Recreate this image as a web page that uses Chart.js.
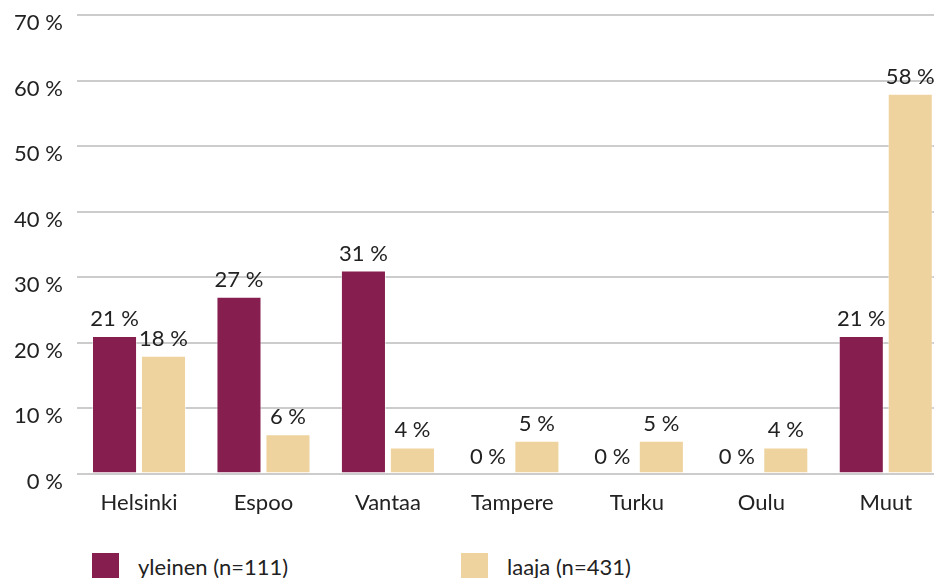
<!DOCTYPE html>
<html>
<head>
<meta charset="utf-8">
<script src="https://cdn.jsdelivr.net/npm/chart.js@4"></script>
<style>
  html, body { margin: 0; padding: 0; background: #fff; overflow: hidden; }
  body { width: 934px; height: 578px; position: relative; font-family: Lato, sans-serif; }
  #wrap { position: absolute; left: 0; top: -12px; width: 948px; height: 536px; }
  #legend { position: absolute; left: 92px; top: 553px; display: flex; }
  .item { display: flex; align-items: center; width: 369px; font-size: 22px; color: #222; }
  .box { width: 27px; height: 27px; margin-right: 19px; }
</style>
</head>
<body>
<div id="wrap"><canvas id="chart"></canvas></div>
<div id="legend"></div>
<script>
const categories = ['Helsinki', 'Espoo', 'Vantaa', 'Tampere', 'Turku', 'Oulu', 'Muut'];
const yleinen = [21, 27, 31, 0, 0, 0, 21];
const laaja = [18, 6, 4, 5, 5, 4, 58];
const seriesNames = ['yleinen (n=111)', 'laaja (n=431)'];
const colors = ['#861f4f', '#eed39e'];
const yTicks = [0, 10, 20, 30, 40, 50, 60, 70];

const valueLabels = {
  id: 'valueLabels',
  afterDatasetsDraw(chart) {
    const ctx = chart.ctx;
    ctx.save();
    ctx.font = '22px Lato';
    ctx.fillStyle = '#222';
    ctx.textAlign = 'center';
    ctx.textBaseline = 'bottom';
    chart.data.datasets.forEach((ds, i) => {
      chart.getDatasetMeta(i).data.forEach((bar, j) => {
        ctx.fillText(`${ds.data[j]} %`, bar.x, bar.y - 6);
      });
    });
    ctx.restore();
  }
};

const chart = new Chart(document.querySelector('#chart'), {
  type: 'bar',
  data: {
    labels: categories,
    datasets: [yleinen, laaja].map((values, i) => ({
      label: seriesNames[i],
      data: values,
      backgroundColor: colors[i],
      borderColor: 'rgba(255,255,255,0.5)',
      borderWidth: 1,
      categoryPercentage: 0.787,
      barPercentage: 0.92
    }))
  },
  options: {
    responsive: true,
    maintainAspectRatio: false,
    animation: false,
    layout: { padding: { top: 0, left: 0, right: 0, bottom: 0 } },
    plugins: {
      legend: { display: false },
      tooltip: { enabled: false }
    },
    scales: {
      x: {
        grid: { display: false },
        border: { display: false },
        ticks: { color: '#222', font: { family: 'Lato', size: 22 }, padding: 8 }
      },
      y: {
        min: 0,
        max: 70,
        afterBuildTicks: (axis) => { axis.ticks = yTicks.map((v) => ({ value: v })); },
        grid: { color: '#cccccc', lineWidth: 2, drawTicks: false },
        border: { display: false },
        ticks: {
          color: '#222',
          font: { family: 'Lato', size: 22 },
          padding: 14,
          labelOffset: 8,
          callback: (v) => `${v} %`
        }
      }
    }
  },
  plugins: [valueLabels]
});

const legend = document.querySelector('#legend');
legend.innerHTML = chart.data.datasets.map((ds) => `
  <div class="item"><span class="box" style="background:${ds.backgroundColor}"></span>${ds.label}</div>
`).join('');
</script>
</body>
</html>
